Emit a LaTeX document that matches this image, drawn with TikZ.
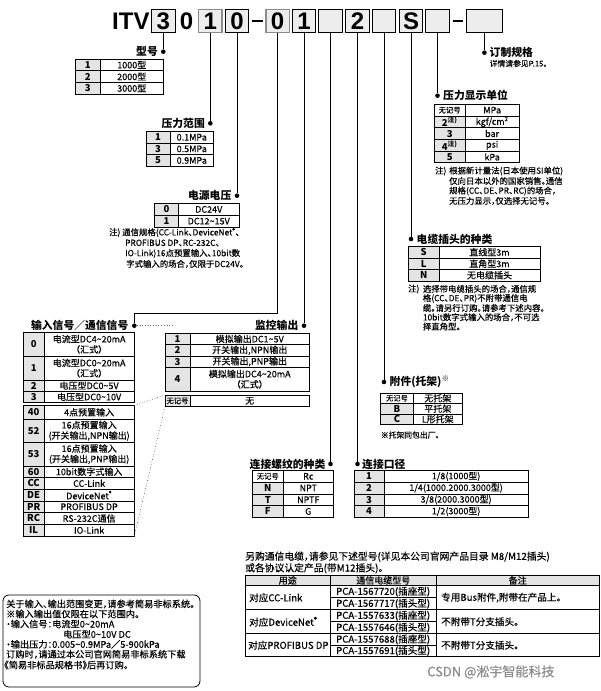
\documentclass[tikz,border=0pt]{standalone}
\usepackage{fontspec}
\setmainfont{Noto Sans CJK SC}[RawFeature={+halt},UprightFeatures={FakeBold=0.35}]
\newfontfamily\hdrfont{Liberation Sans}
\definecolor{cellgray}{HTML}{E4E4E4}
\definecolor{boxgray}{HTML}{EDEDED}
\newcommand\tld{\textasciitilde}
\newcommand\wjh{{\fontsize{7.3}{8}\selectfont\mdseries 无记号}}
\newcommand\regm{\textsuperscript{\textregistered}}
% name, x0, xdiv, x1, ytop, ybot, code, desc, code fill
\newcommand\trow[9]{%
  \fill[#9] (#2,#5) rectangle (#3,#6);
  \draw[tbl] (#2,#5) rectangle (#4,#6) (#3,#5) -- (#3,#6);
  \node[cellcode] (#1c) at ({(#2+#3)/2},{(#5+#6)/2}) {#7};
  \node[celldesc] (#1d) at ({(#3+#4)/2},{(#5+#6)/2}) {#8};
}
\begin{document}
\begin{tikzpicture}[x=1pt,y=-1pt,
  tbl/.style={draw=black,line width=0.75pt},
  cellcode/.style={font=\bfseries\fontsize{9.5}{10}\selectfont,inner sep=0pt,align=center},
  celldesc/.style={font=\fontsize{9}{10.4}\selectfont,inner sep=0pt,align=center},
  lbl/.style={font=\bfseries\fontsize{10.8}{12}\selectfont,inner sep=0pt},
  notetxt/.style={font=\fontsize{8.4}{10}\selectfont,inner sep=0pt,anchor=west},
  conn/.style={line width=0.8pt},
  bdot/.style={circle,fill=black,inner sep=0pt,minimum size=4.6pt},
  hbox/.style={draw=black,fill=boxgray,line width=0.9pt,minimum width=23.5pt,minimum height=23pt,inner sep=0pt,font=\hdrfont\bfseries\fontsize{24}{24}\selectfont},
  hgray/.style={draw=black!45,line width=1.5pt},
  dotln/.style={dotted,line width=0.7pt,black!60},
  hdr/.style={font=\hdrfont\bfseries\fontsize{24}{24}\selectfont,inner sep=0pt}
]
\useasboundingbox (0,0) rectangle (601,691);
\fill[white] (0,0) rectangle (601,691);

% ---------- header ----------
\node[hdr,anchor=west] (itv) at (112,21) {ITV};
\node[hbox] (h1) at (163.3,20.8) {3};
\node[hdr] (h2) at (186.5,20.8) {0};
\node[hbox,hgray] (h3) at (210.3,20.8) {1};
\node[hbox] (h4) at (237,20.8) {0};
\draw[line width=2.3pt] (252,20.8) -- (263,20.8);
\node[hbox,hgray] (h5) at (277.5,20.8) {0};
\node[hbox] (h6) at (304,20.8) {1};
\node[hbox] (h7) at (330.5,20.8) {};
\node[hbox] (h8) at (357.5,20.8) {2};
\node[hbox] (h9) at (384,20.8) {};
\node[hbox] (h10) at (411,20.8) {S};
\node[hbox] (h11) at (437.5,20.8) {};
\draw[line width=2.3pt] (453,20.8) -- (463,20.8);
\node[hbox,minimum width=35.3pt] (h12) at (484.4,20.8) {};

% ---------- dots and connectors ----------
\node[bdot] (d1) at (163.3,51.7) {};
\node[bdot] (d2) at (210.3,123.3) {};
\node[bdot] (d3) at (237,195.7) {};
\node[bdot] (d4) at (134.3,325.7) {};
\node[bdot] (d5) at (304,325.7) {};
\node[bdot] (d6) at (330.5,464) {};
\node[bdot] (d7) at (357.5,464) {};
\node[bdot] (d8) at (384,382) {};
\node[bdot] (d9) at (411,239) {};
\node[bdot] (d10) at (437.5,95.7) {};
\node[bdot] (d11) at (484.4,52.7) {};
\coordinate (bendD) at (277.5,313);
\draw[conn] (h1) -- (d1);
\draw[conn] (h3) -- (d2);
\draw[conn] (h4) -- (d3);
\draw[conn] (h5) -- (bendD) -| (d4);
\draw[conn] (h6) -- (d5);
\draw[conn] (h7) -- (d6);
\draw[conn] (h8) -- (d7);
\draw[conn] (h9) -- (d8);
\draw[conn] (h10) -- (d9);
\draw[conn] (h11) -- (d10);
\draw[conn] (h12) -- (d11);

% ---------- labels ----------
\node[lbl,anchor=east] (l1) at (158,51.7) {型号};
\node[lbl,anchor=east] (l2) at (205,123.3) {压力范围};
\node[lbl,anchor=east] (l3) at (231.5,195.7) {电源电压};
\node[lbl,anchor=east] (l4) at (128.5,325.7) {输入信号／通信信号};
\node[lbl,anchor=east] (l5) at (298.5,325.7) {监控输出};
\node[lbl,anchor=east] (l6) at (325.5,464) {连接螺纹的种类};
\node[lbl,anchor=west] (l7) at (362,464) {连接口径};
\node[lbl,anchor=west] (l8) at (389.5,382) {附件(托架)\textsuperscript{※}};
\node[lbl,anchor=west] (l9) at (416.5,239) {电缆插头的种类};
\node[lbl,anchor=west] (l10) at (443,95.7) {压力显示单位};
\node[lbl,anchor=west] (l11) at (489.5,52.7) {订制规格};
\node[notetxt,font=\fontsize{7.8}{9}\selectfont] (l11b) at (489.5,63.5) {详情请参见P.15。};

% ---------- 型号 ----------
\trow{ty1}{75.7}{100}{163.5}{59}{70.7}{1}{1000型}{cellgray}
\trow{ty2}{75.7}{100}{163.5}{70.7}{82.3}{2}{2000型}{cellgray}
\trow{ty3}{75.7}{100}{163.5}{82.3}{94}{3}{3000型}{cellgray}

% ---------- 压力范围 ----------
\trow{pr1}{146}{170}{213.5}{131.5}{143.1}{1}{0.1MPa}{cellgray}
\trow{pr2}{146}{170}{213.5}{143.1}{154.7}{3}{0.5MPa}{cellgray}
\trow{pr3}{146}{170}{213.5}{154.7}{166.3}{5}{0.9MPa}{cellgray}

% ---------- 电源电压 ----------
\trow{pw1}{154.5}{178.5}{239}{203.5}{215.3}{0}{DC24V}{cellgray}
\trow{pw2}{154.5}{178.5}{239}{215.3}{227}{1}{DC12\tld15V}{cellgray}
\node[notetxt] (ns1) at (109,232.5) {注)};
\node[notetxt] (ns2) at (122,232.5) {通信规格(CC-Link、DeviceNet\regm、};
\node[notetxt] (ns3) at (125,243) {PROFIBUS DP、RC-232C、};
\node[notetxt] (ns4) at (125,253.5) {IO-Link)16点预置输入、10bit数};
\node[notetxt] (ns5) at (126,264) {字式输入的场合，仅限于DC24V。};

% ---------- 压力显示单位 ----------
\trow{un1}{434.3}{465}{519.3}{104.3}{116}{\wjh}{MPa}{white}
\trow{un2}{434.3}{465}{519.3}{116}{127.7}{2\textsuperscript{注)}}{kgf/cm\textsuperscript{2}}{cellgray}
\trow{un3}{434.3}{465}{519.3}{127.7}{139.4}{3}{bar}{cellgray}
\trow{un4}{434.3}{465}{519.3}{139.4}{151.1}{4\textsuperscript{注)}}{psi}{cellgray}
\trow{un5}{434.3}{465}{519.3}{151.1}{162.8}{5}{kPa}{cellgray}
\node[notetxt] (np1) at (435,171) {注)};
\node[notetxt] (np2) at (449,171) {根据新计量法(日本使用SI单位)};
\node[notetxt] (np3) at (449,181) {仅向日本以外的国家销售。通信};
\node[notetxt] (np4) at (449,191) {规格(CC、DE、PR、RC)的场合，};
\node[notetxt] (np5) at (449,201) {无压力显示，仅选择无记号。};

% ---------- 电缆插头的种类 ----------
\trow{cb1}{408.3}{439}{540}{246.5}{258}{S}{直线型3m}{cellgray}
\trow{cb2}{408.3}{439}{540}{258}{269.5}{L}{直角型3m}{cellgray}
\trow{cb3}{408.3}{439}{540}{269.5}{281}{N}{无电缆插头}{cellgray}
\node[notetxt] (nc1) at (408,289) {注)};
\node[notetxt] (nc2) at (422.7,289) {选择带电缆插头的场合，通信规};
\node[notetxt] (nc3) at (422.7,298.5) {格(CC、DE、PR)不附带通信电};
\node[notetxt] (nc4) at (422.7,308) {缆。请另行订购。请参考下述内容。};
\node[notetxt] (nc5) at (422.7,317.3) {10bit数字式输入的场合，不可选};
\node[notetxt] (nc6) at (422.7,326.5) {择直角型。};

% ---------- 输入信号 ----------
\trow{ia}{23.3}{44}{134.3}{332.3}{356.3}{0}{电流型DC4\tld20mA\\（汇式）}{cellgray}
\trow{ib}{23.3}{44}{134.3}{356.3}{380}{1}{电流型DC0\tld20mA\\（汇式）}{cellgray}
\trow{ic}{23.3}{44}{134.3}{380}{391.3}{2}{电压型DC0\tld5V}{cellgray}
\trow{id}{23.3}{44}{134.3}{391.3}{402.5}{3}{电压型DC0\tld10V}{cellgray}
\trow{ie}{23.3}{44}{134.3}{405.5}{419}{40}{4点预置输入}{cellgray}
\trow{if}{23.3}{44}{134.3}{419}{442.5}{52}{16点预置输入\\(开关输出,NPN输出)}{cellgray}
\trow{ig}{23.3}{44}{134.3}{442.5}{466}{53}{16点预置输入\\(开关输出,PNP输出)}{cellgray}
\trow{ih}{23.3}{44}{134.3}{466}{477.5}{60}{10bit数字式输入}{cellgray}
\trow{ii}{23.3}{44}{134.3}{477.5}{489.2}{CC}{CC-Link}{cellgray}
\trow{ij}{23.3}{44}{134.3}{489.2}{500.9}{DE}{DeviceNet\regm}{cellgray}
\trow{ik}{23.3}{44}{134.3}{500.9}{512.6}{PR}{PROFIBUS DP}{cellgray}
\trow{il}{23.3}{44}{134.3}{512.6}{524.3}{RC}{RS-232C通信}{cellgray}
\trow{im}{23.3}{44}{134.3}{524.3}{536}{IL}{IO-Link}{cellgray}

% ---------- 监控输出 ----------
\trow{mo1}{165}{190}{309.5}{333.3}{344.7}{1}{模拟输出DC1\tld5V}{cellgray}
\trow{mo2}{165}{190}{309.5}{344.7}{356}{2}{开关输出,NPN输出}{cellgray}
\trow{mo3}{165}{190}{309.5}{356}{367.4}{3}{开关输出,PNP输出}{cellgray}
\trow{mo4}{165}{190}{309.5}{367.4}{391}{4}{模拟输出DC4\tld20mA\\（汇式）}{cellgray}
\trow{mo5}{165}{190}{309.5}{395}{406.7}{\wjh}{无}{cellgray}

% dotted relations
\coordinate (dotEnd) at (172,325.7);
\coordinate (inU) at (134.3,405.5);
\coordinate (inB) at (134.3,536);
\coordinate (mnT) at (165,395);
\coordinate (mnB) at (165,406.7);
\draw[dotln] (d4) -- (dotEnd);
\draw[dotln] (inU) -- (mnT);
\draw[dotln] (inB) -- (mnB);

% ---------- 附件 ----------
\trow{ac1}{380.7}{413.3}{462.3}{393}{403.5}{\wjh}{无托架}{white}
\trow{ac2}{380.7}{413.3}{462.3}{403.5}{414}{B}{平托架}{cellgray}
\trow{ac3}{380.7}{413.3}{462.3}{414}{424.5}{C}{L形托架}{cellgray}
\node[notetxt,font=\fontsize{7.8}{9}\selectfont] (na1) at (380.7,435) {※托架同包出厂。};

% ---------- 连接螺纹的种类 ----------
\trow{th1}{252.3}{283.3}{333.3}{470.5}{482.2}{\wjh}{Rc}{white}
\trow{th2}{252.3}{283.3}{333.3}{482.2}{493.9}{N}{NPT}{cellgray}
\trow{th3}{252.3}{283.3}{333.3}{493.9}{505.6}{T}{NPTF}{cellgray}
\trow{th4}{252.3}{283.3}{333.3}{505.6}{517.3}{F}{G}{cellgray}

% ---------- 连接口径 ----------
\trow{po1}{354}{384}{528.3}{470.5}{482.2}{1}{1/8(1000型)}{cellgray}
\trow{po2}{354}{384}{528.3}{482.2}{493.9}{2}{1/4(1000.2000.3000型)}{cellgray}
\trow{po3}{354}{384}{528.3}{493.9}{505.6}{3}{3/8(2000.3000型)}{cellgray}
\trow{po4}{354}{384}{528.3}{505.6}{517.3}{4}{1/2(3000型)}{cellgray}

% ---------- cable table ----------
\node[notetxt,font=\fontsize{9.8}{11}\selectfont] (ct1) at (245,556.7) {另购通信电缆，请参见下述型号(详见本公司官网产品目录 M8/M12插头)};
\node[notetxt,font=\fontsize{9.8}{11}\selectfont] (ct2) at (245,568.3) {或各协议认定产品(带M12插头)。};
\fill[cellgray] (245,575) rectangle (599.5,585.7);
\draw[tbl] (245,575) rectangle (599.5,656.7);
\draw[tbl] (245,585.7) -- (599.5,585.7) (245,609.7) -- (599.5,609.7) (245,633.7) -- (599.5,633.7);
\draw[tbl] (330.7,575) -- (330.7,656.7) (436,575) -- (436,656.7);
\draw[tbl] (330.7,597.7) -- (436,597.7) (330.7,621.7) -- (436,621.7) (330.7,645.2) -- (436,645.2);
\node[celldesc] (ch1) at (287.8,580.4) {用途};
\node[celldesc] (ch2) at (383.3,580.4) {通信电缆型号};
\node[celldesc] (ch3) at (517.7,580.4) {备注};
\tikzset{ctxt/.style={notetxt,font=\fontsize{9.6}{10}\selectfont}}
\node[ctxt] (cu1) at (249,597.7) {对应CC-Link};
\node[ctxt] (cu2) at (249,621.7) {对应DeviceNet\regm};
\node[ctxt] (cu3) at (248,645.2) {对应PROFIBUS DP};
\node[ctxt] (cm1) at (336,591.7) {PCA-1567720(插座型)};
\node[ctxt] (cm2) at (336,603.7) {PCA-1567717(插头型)};
\node[ctxt] (cm3) at (336,615.7) {PCA-1557633(插座型)};
\node[ctxt] (cm4) at (336,627.7) {PCA-1557646(插头型)};
\node[ctxt] (cm5) at (336,639.5) {PCA-1557688(插座型)};
\node[ctxt] (cm6) at (336,651) {PCA-1557691(插头型)};
\node[ctxt] (cr1) at (441,597.7) {专用Bus附件,附带在产品上。};
\node[ctxt] (cr2) at (441,621.7) {不附带T分支插头。};
\node[ctxt] (cr3) at (441,645.2) {不附带T分支插头。};

% ---------- bottom-left box ----------
\draw[rounded corners=6pt,line width=0.8pt] (3,595) rectangle (200,687);
\tikzset{btxt/.style={notetxt,font=\fontsize{9.2}{10}\selectfont}}
\node[btxt] (b1) at (6,604) {关于输入、输出范围变更，请参考简易非标系统。};
\node[btxt] (b2) at (6,614) {※输入输出值仅限在以下范围内。};
\node[btxt] (b3) at (6,624) {・输入信号：电流型0\tld20mA};
\node[btxt] (b4) at (63,634.3) {电压型0\tld10V DC};
\node[btxt] (b5) at (6,644.3) {・输出压力：0.005\tld0.9MPa／5-900kPa};
\node[btxt] (b6) at (6,654.3) {订购时，请通过本公司官网简易非标系统下载};
\node[btxt] (b7) at (4,665) {《简易非标品规格书》后再订购。};

% ---------- watermark ----------
\node[notetxt,font=\fontsize{13}{14}\selectfont,text=black!45] (wm) at (427,672) {CSDN @淞宇智能科技};
\end{tikzpicture}
\end{document}
